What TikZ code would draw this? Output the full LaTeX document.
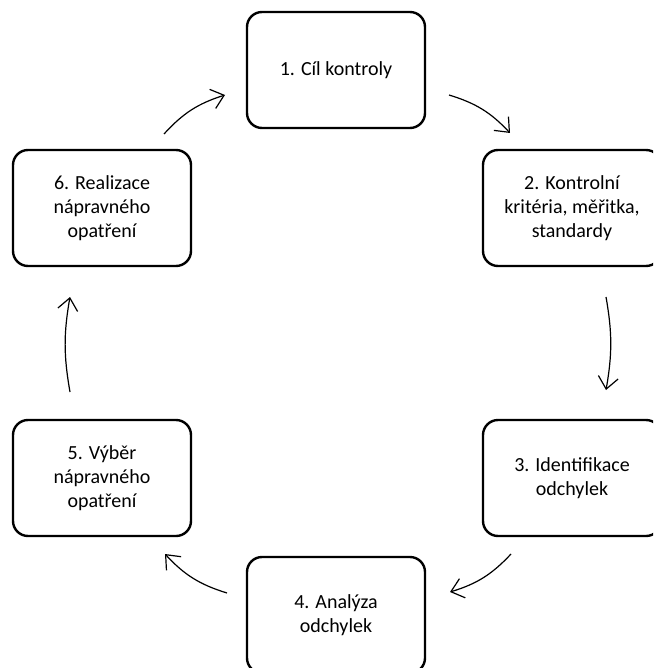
\documentclass[tikz,border=0pt]{standalone}
\usepackage{fontspec}
\setmainfont{Carlito}
\usetikzlibrary{arrows.meta}
\tikzset{
  stepbox/.style={draw, line width=2.4pt, rounded corners=15pt,
    minimum width=178pt, minimum height=116pt, align=center,
    font=\fontsize{20pt}{24pt}\selectfont, inner sep=4pt},
  cyclearrow/.style={line width=1.2pt,
    -{Straight Barb[length=12pt,width=20pt,line width=1.2pt]}}
}
\begin{document}
\begin{tikzpicture}[x=1pt,y=-1pt]
  \useasboundingbox (0,0) rectangle (653,668);
  \clip (0,0) rectangle (653,668);
  % the six stages of the control cycle
  \node[stepbox] (b1) at (336,70)  {1. Cíl kontroly};
  \node[stepbox] (b2) at (572,208) {2. Kontrolní\\kritéria, měřitka,\\standardy};
  \node[stepbox] (b3) at (572,478) {3. Identifikace\\odchylek};
  \node[stepbox] (b4) at (336,615) {4. Analýza\\odchylek};
  \node[stepbox] (b5) at (102,478) {5. Výběr\\nápravného\\opatření};
  \node[stepbox] (b6) at (102,208) {6. Realizace\\nápravného\\opatření};
  % arrow end points between the boxes
  \coordinate (a12s) at (449,95);  \coordinate (a12e) at (510,133);
  \coordinate (a23s) at (606,297); \coordinate (a23e) at (606,390);
  \coordinate (a34s) at (511,554); \coordinate (a34e) at (450,592);
  \coordinate (a45s) at (227,593); \coordinate (a45e) at (165,554);
  \coordinate (a56s) at (70,392);  \coordinate (a56e) at (70,297);
  \coordinate (a61s) at (164,134); \coordinate (a61e) at (225,95);
  \draw[cyclearrow] (a12s) to[bend left=15] (a12e);
  \draw[cyclearrow] (a23s) to[bend left=10] (a23e);
  \draw[cyclearrow] (a34s) to[bend left=15] (a34e);
  \draw[cyclearrow] (a45s) to[bend left=15] (a45e);
  \draw[cyclearrow] (a56s) to[bend left=10] (a56e);
  \draw[cyclearrow] (a61s) to[bend left=15] (a61e);
\end{tikzpicture}
\end{document}
